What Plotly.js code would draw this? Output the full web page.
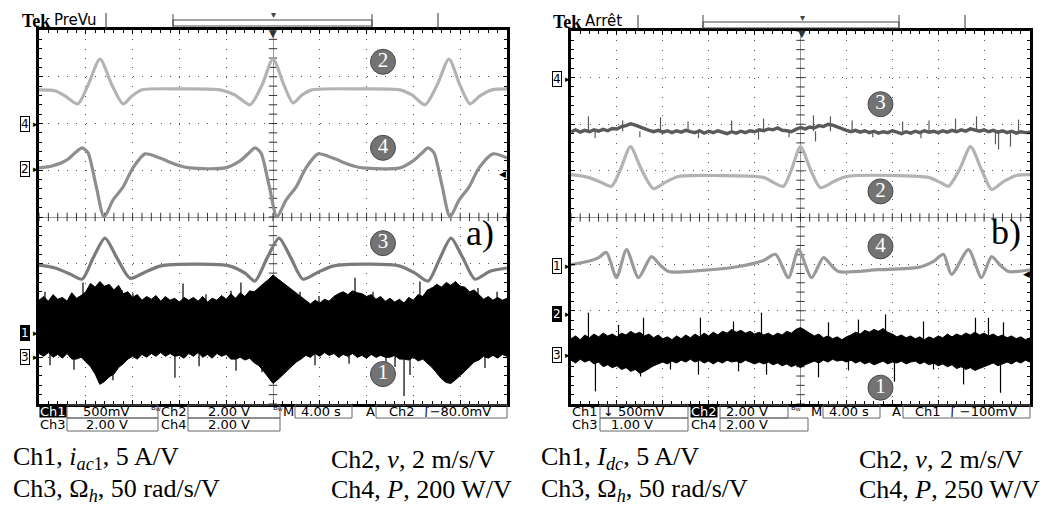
<!DOCTYPE html>
<html><head><meta charset="utf-8">
<script src="https://cdn.plot.ly/plotly-3.0.1.min.js"></script>
<style>html,body{margin:0;padding:0;background:#fff}#chart{width:1048px;height:508px}</style>
</head><body><div id="chart"></div>
<script>
// ---------- DATA (time in s, 4 s/div, trigger at 0; vertical in screen divisions) ----------
// common sample times for the noisy records (0.4 s step)
const gridT = [-20,-19.6,-19.2,-18.8,-18.4,-18,-17.6,-17.2,-16.8,-16.4,-16,-15.6,-15.2,-14.8,-14.4,-14,-13.6,-13.2,-12.8,-12.4,
  -12,-11.6,-11.2,-10.8,-10.4,-10,-9.6,-9.2,-8.8,-8.4,-8,-7.6,-7.2,-6.8,-6.4,-6,-5.6,-5.2,-4.8,-4.4,
  -4,-3.6,-3.2,-2.8,-2.4,-2,-1.6,-1.2,-0.8,-0.4,0,0.4,0.8,1.2,1.6,2,2.4,2.8,3.2,3.6,
  4,4.4,4.8,5.2,5.6,6,6.4,6.8,7.2,7.6,8,8.4,8.8,9.2,9.6,10,10.4,10.8,11.2,11.6,
  12,12.4,12.8,13.2,13.6,14,14.4,14.8,15.2,15.6,16,16.4,16.8,17.2,17.6,18,18.4,18.8,19.2,19.6,20];

// Panel a)
const aCh2T = [-20.00,-18.63,-17.78,-16.67,-15.81,-14.79,-13.76,-12.82,-12.05,-11.20,-7.95,-4.53,-3.25,-1.97,-0.94,0,0.94,1.71,2.48,3.33,7.44,10.85,11.88,12.99,14.02,15.04,15.98,16.84,17.69,18.72,20.00];
const aCh2V = [2.72,2.70,2.59,2.42,2.82,3.38,2.82,2.42,2.59,2.72,2.74,2.72,2.61,2.40,2.82,3.38,2.82,2.44,2.61,2.72,2.74,2.72,2.61,2.40,2.82,3.38,2.82,2.42,2.59,2.72,2.74];

const aCh4T = [-20.00,-18.89,-17.61,-16.84,-16.32,-15.81,-15.13,-14.44,-13.68,-12.82,-11.97,-10.94,-9.66,-8.38,-7.09,-4.10,-2.82,-1.97,-1.54,-1.03,-0.34,0.34,1.11,1.97,2.82,3.85,5.13,6.41,7.69,10.85,11.97,12.82,13.25,13.76,14.44,15.13,15.90,16.75,17.61,18.80,20.00];
const aCh4V = [1.05,1.09,1.22,1.39,1.48,1.37,0.68,0.00,0.36,0.64,1.05,1.35,1.26,1.13,1.05,1.05,1.20,1.39,1.48,1.37,0.68,0.00,0.36,0.64,1.05,1.35,1.26,1.13,1.05,1.05,1.20,1.39,1.48,1.37,0.68,0.00,0.36,0.64,1.05,1.35,1.26];

const aCh3T = [-20,-18.63,-17.35,-16.32,-15.38,-14.36,-13.33,-12.22,-10.94,-9.66,-6.24,-3.68,-2.39,-1.54,-0.51,0.51,1.54,2.56,3.85,5.13,8.29,10.85,12.14,13.25,14.27,15.21,16.24,17.26,18.55,20];
const aCh3V = [-1.03,-1.09,-1.22,-1.33,-0.88,-0.45,-0.88,-1.31,-1.18,-1.05,-1.01,-1.05,-1.20,-1.37,-0.88,-0.45,-0.88,-1.33,-1.18,-1.05,-1.01,-1.05,-1.20,-1.37,-0.88,-0.45,-0.88,-1.33,-1.16,-1.09];

// Ch1 (noisy ac current): upper / lower envelope on gridT, plus isolated spikes
const aCh1Up = [-1.78,-1.70,-1.80,-1.66,-1.76,-1.72,-1.80,-1.62,-1.74,-1.68,
  -1.60,-1.42,-1.50,-1.38,-1.48,-1.44,-1.56,-1.46,-1.64,-1.60,
  -1.72,-1.66,-1.78,-1.70,-1.76,-1.68,-1.80,-1.70,-1.78,-1.74,
  -1.82,-1.72,-1.78,-1.72,-1.80,-1.70,-1.82,-1.74,-1.78,-1.68,
  -1.76,-1.64,-1.74,-1.62,-1.70,-1.58,-1.60,-1.50,-1.42,-1.34,
  -1.24,-1.32,-1.40,-1.48,-1.54,-1.64,-1.72,-1.80,-1.86,-1.78,
  -1.84,-1.76,-1.80,-1.70,-1.64,-1.60,-1.66,-1.58,-1.62,-1.64,
  -1.70,-1.66,-1.76,-1.70,-1.80,-1.74,-1.82,-1.76,-1.84,-1.72,
  -1.78,-1.66,-1.70,-1.56,-1.52,-1.44,-1.50,-1.40,-1.46,-1.38,
  -1.48,-1.50,-1.60,-1.56,-1.66,-1.76,-1.70,-1.78,-1.72,-1.78,-1.74];
const aCh1Lo = [-2.92,-2.98,-2.90,-3.00,-2.94,-3.02,-2.92,-3.04,-3.04,-3.00,
  -3.10,-3.20,-3.36,-3.58,-3.52,-3.42,-3.36,-3.22,-3.14,-3.04,
  -2.98,-3.04,-2.94,-3.00,-2.92,-2.98,-2.90,-2.98,-2.92,-2.98,
  -2.96,-3.02,-2.92,-2.98,-2.90,-3.00,-2.94,-3.02,-2.92,-2.98,
  -2.94,-3.04,-3.04,-3.00,-3.06,-3.02,-3.12,-3.18,-3.30,-3.44,
  -3.56,-3.48,-3.38,-3.30,-3.18,-3.10,-3.04,-2.96,-3.00,-2.92,
  -2.98,-2.90,-2.96,-2.92,-3.00,-2.94,-2.98,-2.92,-3.00,-2.96,
  -3.02,-2.94,-3.00,-2.96,-3.00,-3.00,-2.96,-3.04,-3.04,-3.06,
  -3.00,-3.08,-3.04,-3.12,-3.22,-3.34,-3.46,-3.54,-3.56,-3.48,
  -3.40,-3.30,-3.20,-3.10,-3.06,-2.98,-3.02,-2.96,-3.02,-2.94,-2.98];
const aCh1Mid = -2.48;
const aCh1SpkT = [-19.49,-16.24,-12.91,-11.97,-7.69,-5.73,-3.59,-2.74,2.31,3.93,7.01,8.55,12.56,13.59,17.52,19.15,
  -19.06,-17.01,-13.68,-8.38,-6.32,-3.16,-0.94,3.59,6.50,9.66,10.43,11.20,11.71,15.64,18.12];
const aCh1SpkV = [-1.60,-1.40,-1.56,-1.63,-1.42,-1.65,-1.58,-1.40,-1.60,-1.69,-1.30,-1.60,-1.38,-1.50,-1.52,-1.60,
  -3.17,-3.27,-3.49,-3.44,-3.19,-3.29,-3.32,-3.17,-3.14,-3.32,-3.21,-3.83,-3.38,-3.44,-3.23];

// Panel b)
const bCh2T = [-20,-18.48,-17.34,-16.47,-15.69,-14.82,-13.86,-12.81,-11.68,-10.63,-7.15,-3.22,-2.35,-1.48,-0.78,0,0.87,1.74,2.88,4.01,8.54,11.16,12.20,12.90,13.86,14.82,15.77,16.65,17.69,18.82,20];
const bCh2V = [0.92,0.86,0.75,0.67,1.03,1.52,1.03,0.62,0.77,0.88,0.90,0.86,0.75,0.67,1.03,1.52,1.03,0.64,0.77,0.88,0.90,0.86,0.75,0.67,1.03,1.52,1.03,0.60,0.77,0.90,0.92];

const bCh4T = [-20,-18.48,-17.60,-16.91,-16.04,-15.16,-14.12,-12.99,-12.20,-11.50,-8.89,-5.40,-3.22,-2.18,-1.05,-0.17,0.96,2.00,2.70,3.31,6.80,10.28,11.59,12.46,13.16,14.64,15.77,16.65,17.43,18.13,20];
const bCh4V = [-1.01,-0.94,-0.86,-0.75,-1.29,-0.69,-1.29,-0.84,-1.03,-1.16,-1.14,-1.05,-0.92,-0.79,-1.29,-0.69,-1.29,-0.86,-1.03,-1.16,-1.12,-1.07,-0.94,-0.79,-1.22,-0.69,-1.29,-0.84,-1.03,-1.16,-1.12];

// Ch3 (hub speed, noisy) on gridT, plus spikes
const bCh3V = [1.84,1.88,1.83,1.87,1.84,1.88,1.85,1.89,1.86,1.91,1.90,
  1.95,1.97,2.01,1.98,1.94,1.90,1.87,1.84,1.87,1.83,
  1.86,1.82,1.86,1.83,1.87,1.84,1.82,1.86,1.81,1.85,
  1.82,1.86,1.83,1.80,1.84,1.81,1.85,1.82,1.86,1.84,
  1.88,1.86,1.90,1.88,1.92,1.87,1.86,1.84,1.89,1.93,
  1.90,1.94,1.92,1.97,1.95,2.00,1.98,1.94,1.90,1.87,
  1.84,1.87,1.83,1.86,1.82,1.85,1.81,1.84,1.82,1.86,
  1.83,1.80,1.84,1.81,1.85,1.82,1.86,1.83,1.85,1.82,
  1.86,1.83,1.87,1.84,1.88,1.85,1.90,1.87,1.85,1.88,
  1.84,1.87,1.83,1.86,1.82,1.85,1.81,1.84,1.82,1.83];
const bCh3Mid = 1.85;
const bCh3SpkT = [-18.48,-15.50,-12.20,-9.80,-6.00,-3.22,1.13,2.61,4.50,8.90,11.20,13.51,15.34,19.0,
  -17.90,-14.00,-8.89,-3.66,-1.00,1.31,6.30,10.50,16.99,17.26,18.30];
const bCh3SpkV = [2.17,2.08,2.15,2.06,2.08,2.12,2.19,2.17,2.08,2.06,2.08,2.12,2.17,2.10,
  1.70,1.72,1.70,1.67,1.72,1.63,1.72,1.70,1.57,1.46,1.52];

// Ch1 (dc current): envelope on gridT, plus spikes
const bCh1Up = [-2.60,-2.54,-2.62,-2.52,-2.58,-2.50,-2.56,-2.48,-2.54,-2.50,
  -2.56,-2.48,-2.52,-2.44,-2.50,-2.46,-2.54,-2.50,-2.58,-2.52,
  -2.60,-2.56,-2.62,-2.54,-2.60,-2.52,-2.58,-2.50,-2.56,-2.48,
  -2.54,-2.46,-2.52,-2.44,-2.48,-2.40,-2.46,-2.42,-2.48,-2.44,
  -2.50,-2.46,-2.52,-2.48,-2.54,-2.48,-2.52,-2.44,-2.48,-2.40,
  -2.36,-2.42,-2.48,-2.54,-2.50,-2.58,-2.54,-2.60,-2.56,-2.62,
  -2.56,-2.52,-2.46,-2.50,-2.42,-2.46,-2.40,-2.44,-2.38,-2.46,
  -2.50,-2.56,-2.52,-2.58,-2.54,-2.60,-2.56,-2.62,-2.56,-2.60,
  -2.54,-2.58,-2.50,-2.56,-2.50,-2.54,-2.48,-2.52,-2.46,-2.52,
  -2.48,-2.54,-2.50,-2.56,-2.52,-2.58,-2.54,-2.60,-2.56,-2.62,-2.58];
const bCh1Lo = [-3.06,-3.12,-3.04,-3.10,-3.06,-3.14,-3.10,-3.20,-3.16,-3.22,
  -3.18,-3.26,-3.22,-3.30,-3.26,-3.34,-3.30,-3.24,-3.18,-3.14,
  -3.10,-3.14,-3.08,-3.12,-3.06,-3.10,-3.04,-3.10,-3.06,-3.12,
  -3.08,-3.14,-3.08,-3.12,-3.06,-3.10,-3.08,-3.12,-3.06,-3.10,
  -3.14,-3.10,-3.14,-3.10,-3.16,-3.12,-3.18,-3.14,-3.20,-3.16,
  -3.22,-3.16,-3.12,-3.08,-3.12,-3.06,-3.10,-3.04,-3.08,-3.06,
  -3.10,-3.06,-3.12,-3.08,-3.14,-3.10,-3.16,-3.12,-3.08,-3.14,
  -3.10,-3.12,-3.08,-3.14,-3.10,-3.08,-3.14,-3.10,-3.16,-3.12,
  -3.18,-3.14,-3.20,-3.16,-3.24,-3.20,-3.26,-3.22,-3.28,-3.24,
  -3.20,-3.16,-3.12,-3.18,-3.14,-3.10,-3.14,-3.08,-3.12,-3.06,-3.10];
const bCh1Mid = -2.83;
const bCh1SpkT = [-18.48,-13.68,-8.72,-3.40,7.41,10.72,15.25,16.38,-15.86,-5.84,2.44,5.05,17.69,
  -17.87,-13.94,-8.89,-2.96,1.57,8.19,14.21,17.43,-11.33,-5.40,4.18,11.59];
const bCh1SpkV = [-2.04,-2.15,-2.15,-2.04,-2.08,-2.23,-2.15,-2.15,-2.30,-2.23,-2.25,-2.19,-2.25,
  -3.73,-3.41,-3.37,-3.37,-3.43,-3.52,-3.58,-3.76,-3.26,-3.30,-3.28,-3.26];

// channel number badges
const aBadgeT = [9.40, 9.40, 9.40, 9.40];
const aBadgeV = [3.32, 1.48, -0.56, -3.36];
const aBadgeTxt = ['2','4','3','1'];
const bBadgeT = [6.97, 6.97, 6.97, 6.97];
const bBadgeV = [2.43, 0.56, -0.62, -3.65];
const bBadgeTxt = ['3','2','4','1'];

// ---------- HELPERS ----------
const W = 1048, H = 508;
const px = x => x / W, py = y => 1 - y / H;
const SANS = 'DejaVu Sans', SERIF = 'Liberation Serif';

function trace(t, v, color, ax, w, shape) {
  return {x: t, y: v, xaxis: ax[0], yaxis: ax[1], mode: 'lines', hoverinfo: 'skip',
    line: {color: color, width: w || 3.2, shape: shape || 'spline', smoothing: 0.7}};
}
function band(t, vu, vl, color, ax) {
  return [
    {x: t, y: vu, xaxis: ax[0], yaxis: ax[1], mode: 'lines', line: {color: color, width: 1}, hoverinfo: 'skip'},
    {x: t, y: vl, xaxis: ax[0], yaxis: ax[1], mode: 'lines', line: {color: color, width: 1}, fill: 'tonexty', fillcolor: color, hoverinfo: 'skip'}
  ];
}
function spikes(t, tips, mid, color, ax) {
  const x = [], y = [];
  t.forEach((ti, i) => { x.push(ti, ti, null); y.push(mid, tips[i], null); });
  return {x: x, y: y, xaxis: ax[0], yaxis: ax[1], mode: 'lines', line: {color: color, width: 1.2}, hoverinfo: 'skip', connectgaps: false};
}
function centerTicks(ax) {
  const hx = [], hy = [], vx = [], vy = [];
  for (let i = -25; i <= 25; i++) { hx.push(i * 0.8); hy.push(0); }
  for (let i = -20; i <= 20; i++) { vx.push(0); vy.push(i * 0.2); }
  const mk = s => ({symbol: s, size: 6, color: '#333', line: {color: '#333', width: 1}});
  return [
    {x: hx, y: hy, xaxis: ax[0], yaxis: ax[1], mode: 'markers', hoverinfo: 'skip', marker: mk('line-ns-open')},
    {x: vx, y: vy, xaxis: ax[0], yaxis: ax[1], mode: 'markers', hoverinfo: 'skip', marker: mk('line-ew-open')}
  ];
}
function badges(t, v, txt, ax) {
  return {x: t, y: v, text: txt, xaxis: ax[0], yaxis: ax[1], mode: 'markers+text', hoverinfo: 'skip', cliponaxis: false,
    marker: {size: 25, color: '#737373', line: {color: '#4a4a4a', width: 1}},
    textposition: 'middle center', textfont: {family: SERIF, size: 21, color: '#fff'}};
}

const A = ['x', 'y'], B = ['x2', 'y2'];
const data = [
  ...centerTicks(A), ...centerTicks(B),
  ...band(gridT, aCh1Up, aCh1Lo, '#000', A),
  spikes(aCh1SpkT, aCh1SpkV, aCh1Mid, '#000', A),
  trace(aCh3T, aCh3V, '#7b7b7b', A),
  trace(aCh4T, aCh4V, '#8e8e8e', A),
  trace(aCh2T, aCh2V, '#b3b3b3', A),
  ...band(gridT, bCh1Up, bCh1Lo, '#000', B),
  spikes(bCh1SpkT, bCh1SpkV, bCh1Mid, '#000', B),
  trace(gridT, bCh3V, '#5a5a5a', B, 3.4, 'linear'),
  spikes(bCh3SpkT, bCh3SpkV, bCh3Mid, '#5a5a5a', B),
  trace(bCh2T, bCh2V, '#b3b3b3', B),
  trace(bCh4T, bCh4V, '#9a9a9a', B),
  badges(aBadgeT, aBadgeV, aBadgeTxt, A),
  badges(bBadgeT, bBadgeV, bBadgeTxt, B)
];

function xax(d, anchor) {
  return {domain: d, anchor: anchor, range: [-20, 20], showline: true, linewidth: 3, linecolor: '#000', mirror: 'ticks',
    ticks: 'inside', ticklen: 4, tickcolor: '#000', tickwidth: 1, tick0: 0, dtick: 4, showticklabels: false,
    showgrid: true, gridcolor: '#555', gridwidth: 1, griddash: '1px,8.36px',
    zeroline: true, zerolinecolor: '#9a9a9a', zerolinewidth: 1,
    minor: {dtick: 0.8, tick0: 0, ticks: 'inside', ticklen: 3, tickcolor: '#000', showgrid: false},
    fixedrange: true};
}
function yax(d, anchor) {
  return {domain: d, anchor: anchor, range: [-4, 4], showline: true, linewidth: 3, linecolor: '#000', mirror: 'ticks',
    ticks: 'inside', ticklen: 4, tickcolor: '#000', tickwidth: 1, tick0: 0, dtick: 1, showticklabels: false,
    showgrid: true, gridcolor: '#555', gridwidth: 1, griddash: '1px,8.36px',
    zeroline: true, zerolinecolor: '#9a9a9a', zerolinewidth: 1,
    minor: {dtick: 0.2, tick0: 0, ticks: 'inside', ticklen: 3, tickcolor: '#000', showgrid: false},
    fixedrange: true};
}

const ann = [], shapes = [];
function txt(x, y, s, o) {
  o = o || {};
  const a = {xref: 'paper', yref: 'paper', x: px(x), y: py(y), text: s, showarrow: false,
    xanchor: o.xa || 'left', yanchor: 'middle', font: {family: o.fam || SANS, size: o.size || 13, color: o.color || '#000'},
    borderpad: o.pad == null ? 0 : o.pad};
  if (o.bg) a.bgcolor = o.bg;
  if (o.h) a.height = o.h;
  ann.push(a);
}
function rect(x0, y0, x1, y1, c) {
  shapes.push({type: 'rect', xref: 'paper', yref: 'paper', x0: px(x0), x1: px(x1), y0: py(y0), y1: py(y1),
    line: {color: c || '#666', width: 1}});
}
function line(x0, y0, x1, y1, c, w) {
  shapes.push({type: 'line', xref: 'paper', yref: 'paper', x0: px(x0), x1: px(x1), y0: py(y0), y1: py(y1),
    line: {color: c || '#333', width: w || 1}});
}
function tag(x, yv, s, yref, dark) {
  ann.push({xref: 'paper', yref: yref, x: px(x), y: yv, text: s, showarrow: false, xanchor: 'center', yanchor: 'middle',
    font: {family: SANS, size: 12, color: dark ? '#fff' : '#000'}, bgcolor: dark ? '#000' : '#fff',
    bordercolor: '#000', borderwidth: 1, borderpad: 0});
  ann.push({xref: 'paper', yref: yref, x: px(x + 6), y: yv, text: '▸', showarrow: false, xanchor: 'left', yanchor: 'middle',
    font: {family: SANS, size: 9, color: '#000'}});
}
const ST = {h: 12};
const STB = (o) => Object.assign({h: 12}, o);

// ---- header bars ----
txt(21, 21, '<b>Tek</b>', {fam: SERIF, size: 18});
txt(53, 20, 'PreVu', {size: 15});
line(106, 13, 106, 30); line(438, 13, 438, 30);
rect(173, 20, 372, 26, '#444'); line(173, 14, 173, 27, '#444'); line(372, 14, 372, 27, '#444');
txt(273, 15, '▾', {xa: 'center', size: 10, color: '#444'});
txt(273, 33, '▼', {xa: 'center', size: 10, color: '#333'});

txt(552, 22, '<b>Tek</b>', {fam: SERIF, size: 18});
txt(584, 21, 'Arrêt', {size: 15});
line(638, 15, 638, 31); line(965, 15, 965, 31);
rect(703, 22, 899, 28, '#444'); line(703, 15, 703, 29, '#444'); line(899, 15, 899, 29, '#444');
txt(802, 17, '▾', {xa: 'center', size: 10, color: '#444'});
txt(802, 34, '▼', {xa: 'center', size: 10, color: '#333'});

// ---- channel offset tags & trigger level arrows ----
tag(25, 1.99, '4', 'y'); tag(25, 1.03, '2', 'y'); tag(25, -2.48, '1', 'y', true); tag(25, -2.99, '3', 'y');
tag(557, 2.96, '4', 'y2'); tag(557, -1.05, '1', 'y2'); tag(557, -2.08, '2', 'y2', true); tag(557, -2.94, '3', 'y2');
ann.push({xref: 'paper', yref: 'y', x: px(497), y: 0.92, text: '◀', showarrow: false, xanchor: 'left', yanchor: 'middle', font: {family: SANS, size: 9, color: '#000'}});
ann.push({xref: 'paper', yref: 'y2', x: px(1021), y: -1.22, text: '◀', showarrow: false, xanchor: 'left', yanchor: 'middle', font: {family: SANS, size: 9, color: '#000'}});

// ---- panel labels ----
ann.push({xref: 'x', yref: 'y', x: 17.7, y: -0.34, text: 'a)', showarrow: false, font: {family: SERIF, size: 36, color: '#000'}});
ann.push({xref: 'x2', yref: 'y2', x: 17.87, y: -0.32, text: 'b)', showarrow: false, font: {family: SERIF, size: 36, color: '#000'}});

// ---- status bar a) ----
txt(53, 411, 'Ch1', STB({xa: 'center', color: '#fff', bg: '#000'}));
rect(67, 405, 158, 418); txt(82, 411, '500mV', ST);
txt(150, 408, 'B<sub>W</sub>', {size: 7});
txt(160, 411, 'Ch2', ST);
rect(188, 405, 280, 418); txt(207, 411, '2.00 V', ST);
txt(272, 408, 'B<sub>W</sub>', {size: 7});
txt(282, 411, 'M', ST);
rect(295, 405, 352, 418); txt(300, 411, '4.00 s', ST);
txt(365, 411, 'A', ST);
rect(376, 405, 507, 418); txt(388, 411, 'Ch2  ∫−80.0mV', ST);
txt(39, 424, 'Ch3', ST);
rect(67, 418, 158, 431); txt(85, 424, '2.00 V', ST);
txt(160, 424, 'Ch4', ST);
rect(188, 418, 280, 431); txt(207, 424, '2.00 V', ST);

// ---- status bar b) ----
txt(571, 411, 'Ch1', ST);
rect(600, 405, 688, 418); txt(602, 411, '↓ 500mV', ST);
txt(704, 411, 'Ch2', STB({xa: 'center', color: '#fff', bg: '#000'}));
rect(720, 405, 788, 418); txt(725, 411, '2.00 V', ST);
txt(790, 408, 'B<sub>W</sub>', {size: 7});
txt(810, 411, 'M', ST);
rect(823, 405, 880, 418); txt(828, 411, '4.00 s', ST);
txt(891, 411, 'A', ST);
rect(903, 405, 1030, 418); txt(914, 411, 'Ch1  ∫ −100mV', ST);
txt(571, 424, 'Ch3', ST);
rect(600, 418, 688, 431); txt(610, 424, '1.00 V', ST);
txt(690, 424, 'Ch4', ST);
rect(720, 418, 808, 431); txt(725, 424, '2.00 V', ST);

// ---- captions ----
const CAP = {fam: SERIF, size: 26};
txt(12, 458, 'Ch1, <i>i</i><sub><i>ac</i>1</sub>, 5 A/V', CAP);
txt(12, 490, 'Ch3, Ω<sub><i>h</i></sub>, 50 rad/s/V', CAP);
txt(330, 459, 'Ch2, <i>v</i>, 2 m/s/V', CAP);
txt(330, 489, 'Ch4, <i>P</i>, 200 W/V', CAP);
txt(540, 458, 'Ch1, <i>I<sub>dc</sub></i>, 5 A/V', CAP);
txt(540, 490, 'Ch3, Ω<sub><i>h</i></sub>, 50 rad/s/V', CAP);
txt(858, 459, 'Ch2, <i>v</i>, 2 m/s/V', CAP);
txt(858, 489, 'Ch4, <i>P</i>, 250 W/V', CAP);

const layout = {
  width: W, height: H, margin: {l: 0, r: 0, t: 0, b: 0},
  paper_bgcolor: '#fff', plot_bgcolor: '#fff', showlegend: false, hovermode: false,
  xaxis: xax([px(39), px(507)], 'y'),
  yaxis: yax([1 - 404 / H, 1 - 30 / H], 'x'),
  xaxis2: xax([px(571), px(1030)], 'y2'),
  yaxis2: yax([1 - 404 / H, 1 - 31 / H], 'x2'),
  annotations: ann, shapes: shapes
};

Plotly.newPlot('chart', data, layout, {staticPlot: true, displayModeBar: false});
</script></body></html>
